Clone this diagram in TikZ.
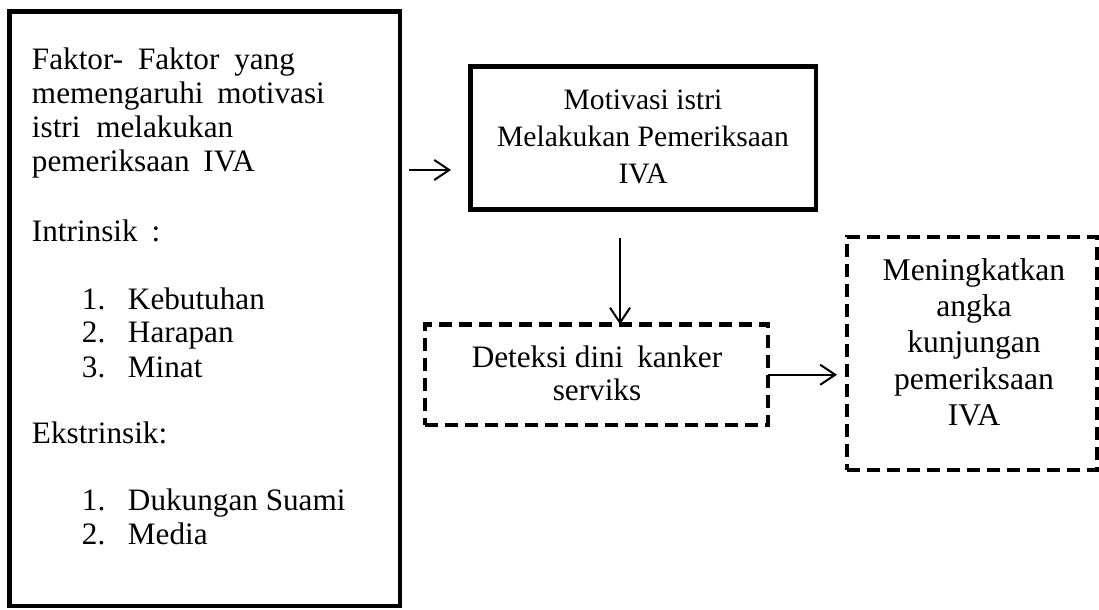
\documentclass[tikz,border=0pt]{standalone}
\usepackage{fontspec}
\setmainfont{Liberation Serif}
\usetikzlibrary{arrows.meta}
\begin{document}
\begin{tikzpicture}[x=0.5pt,y=-0.5pt,
  solidbox/.style={draw, line width=2.2pt, inner sep=0pt, outer sep=0pt, anchor=north west},
  dashbox/.style={draw, line width=2.3pt, dash pattern=on 6.5pt off 3.5pt, inner sep=0pt, outer sep=0pt, anchor=north west},
  txt/.style={inner sep=0pt, outer sep=0pt, font=\fontsize{15.6pt}{17pt}\selectfont},
  txtw/.style={inner sep=0pt, outer sep=0pt, font=\fontsize{15.8pt}{18.2pt}\selectfont},
  txtm/.style={inner sep=0pt, outer sep=0pt, font=\fontsize{14.8pt}{18.4pt}\selectfont},
  arr/.style={line width=1pt, -{Straight Barb[length=7.5pt,width=10pt]}}]
\useasboundingbox (0,0) rectangle (1099,610);
% boxes
\node[solidbox, minimum width=195.25pt, minimum height=297.25pt] (faktor) at (9.5,11.5) {};
\node[solidbox, minimum width=172.75pt, minimum height=71.5pt] (motiv) at (470.5,66.5) {};
\node[dashbox, minimum width=171.5pt, minimum height=50.25pt] (deteksi) at (425,324.5) {};
\node[dashbox, minimum width=125pt, minimum height=116.5pt] (meningkat) at (847,237) {};
% left box texts
\node[txt, anchor=base west] (ftitle) at (32,70) {\begin{tabular}[t]{@{}l@{}}Faktor-\hspace{3.5pt} Faktor\hspace{3.5pt} yang\\ memengaruhi\hspace{3pt} motivasi\\ istri\hspace{4pt} melakukan\\ pemeriksaan\hspace{3pt} IVA\end{tabular}};
\node[txt, anchor=base west] (intr) at (32,242) {Intrinsik\hspace{3pt} :};
\node[txt, anchor=base west] (intrlist) at (82,309) {\begin{tabular}[t]{@{}p{23pt}@{}l@{}}1.&Kebutuhan\\2.&Harapan\\3.&Minat\end{tabular}};
\node[txt, anchor=base west] (ekstr) at (32,443) {Ekstrinsik:};
\node[txt, anchor=base west] (ekstrlist) at (82,510) {\begin{tabular}[t]{@{}p{23pt}@{}l@{}}1.&Dukungan Suami\\2.&Media\end{tabular}};
% other box texts
\node[txtm, anchor=base] (motivtxt) at (643,109.5) {\begin{tabular}[t]{@{}c@{}}Motivasi istri\\Melakukan Pemeriksaan\\IVA\end{tabular}};
\node[txt, anchor=base] (deteksitxt) at (597,367) {\begin{tabular}[t]{@{}c@{}}Deteksi dini\hspace{3pt} kanker\\serviks\end{tabular}};
\node[txtw, anchor=base] (meningkattxt) at (974,280) {\begin{tabular}[t]{@{}c@{}}Meningkatkan\\angka\\kunjungan\\pemeriksaan\\IVA\end{tabular}};
% connectors
\coordinate (a1s) at (409,170);
\coordinate (a1e) at (451,170);
\draw[arr] (a1s) -- (a1e);
\coordinate (a2s) at (620,238);
\draw[arr] (a2s) -- (a2s |- deteksi.north);
\draw[arr, shorten >=5pt] (deteksi.east) -- (deteksi.east -| meningkat.west);
\end{tikzpicture}
\end{document}
